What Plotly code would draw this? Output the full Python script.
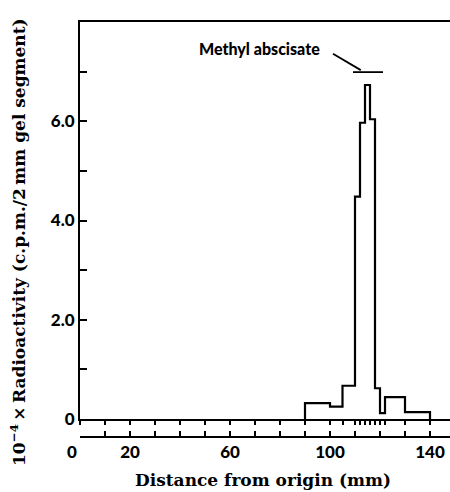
import plotly.graph_objects as go

# Data
edges = [90, 100, 105, 110, 112, 114, 116, 118, 120, 122, 130, 140]  # segment boundaries (mm)
counts = [0.32, 0.25, 0.67, 4.48, 5.97, 6.73, 6.04, 0.62, 0.12, 0.44, 0.14]  # 10^-4 x c.p.m.

x_label_vals = [0, 20, 60, 100, 140]
x_label_text = ["0\u00a0\u00a0\u00a0\u00a0", "20", "60", "100", "140"]
x_major_ticks = list(range(0, 141, 10))
x_fine_ticks = [105, 110, 112, 114, 116, 118, 120, 122]
y_tick_vals = [0, 1, 2, 3, 4, 5, 6, 7]
y_tick_text = ["0", "", "2.0", "", "4.0", "", "6.0", ""]

peak_label = "Methyl abscisate"
peak_range = [109.2, 121.2]
peak_level = 6.99

# step outline
xs = [edges[0]] + edges
ys = [0] + counts + [0]

tick_font = dict(family="Lato", size=17, color="black", weight=900)
title_font = dict(family="DejaVu Serif", size=17, color="black", weight="bold")

fig = go.Figure()
fig.add_trace(go.Scatter(x=xs, y=ys, mode="lines", line=dict(color="black", width=2.2, shape="hv"),
                         showlegend=False, hoverinfo="skip"))
fig.add_trace(go.Scatter(x=[None], y=[None], xaxis="x2", yaxis="y", showlegend=False, hoverinfo="skip"))

fig.update_layout(
    width=450, height=492,
    margin=dict(l=80, r=0, t=22, b=55),
    paper_bgcolor="white", plot_bgcolor="white",
    xaxis=dict(range=[0, 148], anchor="y", showline=True, mirror=True, linecolor="black", linewidth=2,
               ticks="outside", ticklen=4, tickwidth=1.5, tickcolor="black",
               tickvals=x_major_ticks + x_fine_ticks, showticklabels=False,
               showgrid=False, zeroline=False),
    xaxis2=dict(range=[0, 148], overlaying="x", anchor="free", position=0, side="bottom",
                showline=True, linecolor="black", linewidth=2,
                ticks="inside", ticklen=5, tickwidth=1.5, tickcolor="black",
                tickvals=x_major_ticks,
                ticktext=[x_label_text[x_label_vals.index(v)] if v in x_label_vals else "" for v in x_major_ticks],
                tickfont=tick_font, showgrid=False, zeroline=False),
    yaxis=dict(range=[0, 8], domain=[18 / 415, 1], showline=True, linecolor="black", linewidth=2,
               ticks="inside", ticklen=7, tickwidth=1.5, tickcolor="black",
               tickvals=y_tick_vals, ticktext=y_tick_text, tickfont=tick_font,
               showgrid=False, zeroline=False),
)

fig.add_annotation(x=71.8, y=7.46, xref="x", yref="y", text=peak_label, showarrow=False,
                   font=dict(family="Lato", size=16, color="black", weight=900))
fig.add_shape(type="line", x0=101.2, y0=7.36, x1=112.3, y1=7.03, xref="x", yref="y",
              line=dict(color="black", width=1.8))
fig.add_shape(type="line", x0=peak_range[0], y0=peak_level, x1=peak_range[1], y1=peak_level,
              xref="x", yref="y", line=dict(color="black", width=1.8))

fig.add_annotation(x=(263 - 80) / 370, y=(437 - 480) / 415, xref="paper", yref="paper",
                   text="Distance from origin (mm)", showarrow=False, font=title_font,
                   xanchor="center", yanchor="middle")
fig.add_annotation(x=(18 - 80) / 370, y=(437 - 242) / 415, xref="paper", yref="paper",
                   text="10<sup>\u22124</sup>\u2009\u00d7\u2009Radioactivity (c.p.m./2\u2009mm gel segment)",
                   showarrow=False, font=title_font, textangle=-90,
                   xanchor="center", yanchor="middle")

fig.write_html("out.html", config={"displayModeBar": False},
               post_script="document.body.style.margin='0';")
